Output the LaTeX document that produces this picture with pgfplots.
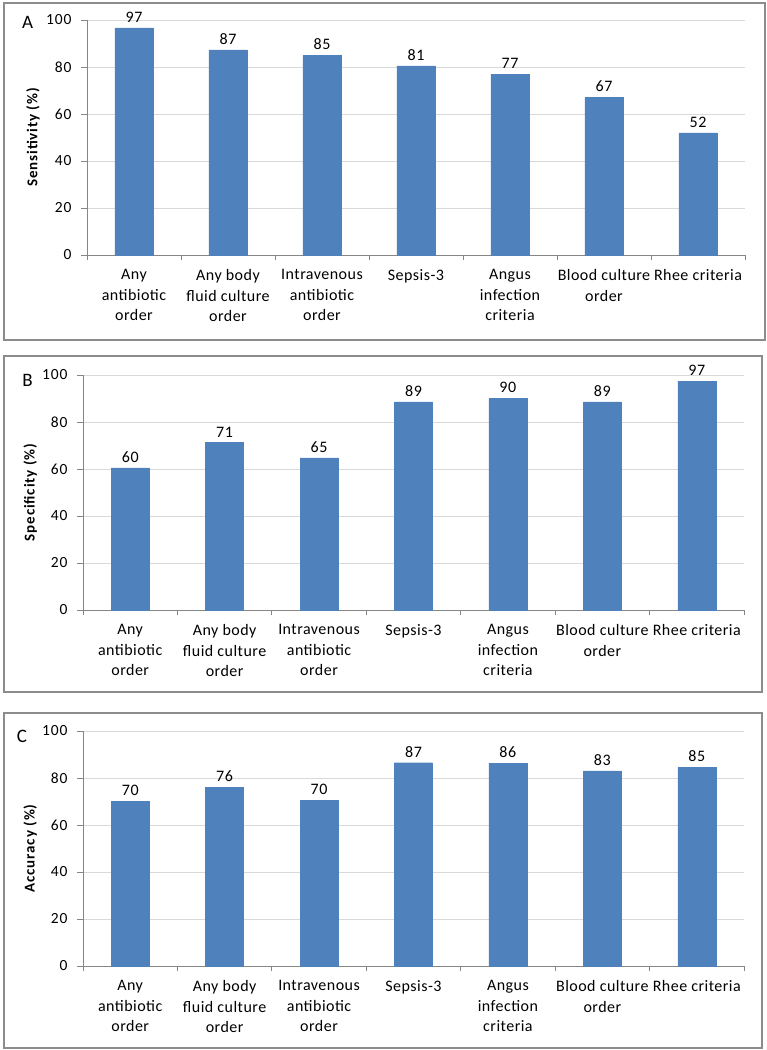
\documentclass[border=0pt]{standalone}
\usepackage{pgfplots}
\pgfplotsset{compat=1.18}
\usepackage{pgfplotstable}
\usepackage{fontspec}
\setmainfont{Carlito}
\newfontfamily\catfont[LetterSpace=3]{Carlito}
\newfontfamily\numfont[LetterSpace=6]{Carlito}
\newfontfamily\valfont[LetterSpace=4]{Carlito}
\newfontfamily\labfont[LetterSpace=6]{Carlito}
\definecolor{barblue}{HTML}{4F81BD}
\definecolor{gridgray}{HTML}{D9D9D9}
\definecolor{axgray}{HTML}{868686}
\definecolor{framegray}{HTML}{8C8C8C}

\pgfplotstableread{
x y lab
0 96.7 97
1 87.3 87
2 85 85
3 80.5 81
4 77 77
5 67 67
6 52 52
}\dataA
\pgfplotstableread{
x y lab
0 60.5 60
1 71.2 71
2 64.7 65
3 88.6 89
4 90 90
5 88.6 89
6 97.4 97
}\dataB
\pgfplotstableread{
x y lab
0 70 70
1 76 76
2 70.5 70
3 86.5 87
4 86.3 86
5 83 83
6 84.5 85
}\dataC

\pgfplotsset{panel/.style={
  height=235pt, scale only axis,
  ymin=0, ymax=100, ytick={0,20,...,100},
  xmin=-0.5, xmax=6.5, xtick={0,...,6},
  minor xtick={-0.5,0.5,...,6.5},
  axis x line*=bottom, axis y line*=left,
  axis line style={axgray, line width=0.9pt, -},
  tick align=outside,
  major tick length=6pt, minor tick length=5pt,
  tick style={axgray, line width=0.9pt},
  major x tick style={draw=none},
  ymajorgrids, grid style={gridgray, line width=0.9pt},
  /pgf/number format/assume math mode=true,
  yticklabel style={font=\numfont\fontsize{15.5}{17}\selectfont, text=black, xshift=-6pt},
  xticklabel style={align=center, font=\catfont\fontsize{16}{20.5}\selectfont, text=black, yshift=-5pt},
  xticklabels={{Any\\antibiotic\\order},{Any body\\fluid culture\\order},{Intravenous\\antibiotic\\order},{Sepsis-3},{Angus\\infection\\criteria},{Blood culture\\order},{Rhee criteria}},
  ylabel style={font=\labfont\fontsize{15}{17}\selectfont\bfseries, anchor=center},
  ybar, bar width=38pt,
  nodes near coords, point meta=explicit symbolic,
  every node near coord/.append style={font=\valfont\fontsize{16}{18}\selectfont, text=black, anchor=south, yshift=2pt},
}}

\begin{document}
\begin{tikzpicture}
\useasboundingbox (0pt,0pt) rectangle (767pt,-1050pt);
\draw[framegray, line width=1.3pt] (4pt,-3pt) rectangle (765pt,-340pt);
\draw[framegray, line width=1.3pt] (4pt,-356pt) rectangle (762pt,-692pt);
\draw[framegray, line width=1.3pt] (4pt,-713pt) rectangle (762pt,-1048pt);
\node[font=\fontsize{19}{22}\selectfont] at (27.5pt,-22pt) {A};
\node[font=\fontsize{19}{22}\selectfont] at (27.5pt,-380pt) {B};
\node[font=\fontsize{19}{22}\selectfont] at (22pt,-736pt) {C};

\begin{axis}[panel, at={(87pt,-255pt)}, anchor=south west, width=658pt,
  ylabel={Sensitivity (\%)}, ylabel style={at={(axis description cs:-0.082,0.5)}}]
\addplot[fill=barblue, draw=barblue] table[x=x,y=y,meta=lab]{\dataA};
\end{axis}

\begin{axis}[panel, at={(83pt,-610pt)}, anchor=south west, width=661pt,
  ylabel={Specificity (\%)}, ylabel style={at={(axis description cs:-0.080,0.5)}}]
\addplot[fill=barblue, draw=barblue] table[x=x,y=y,meta=lab]{\dataB};
\end{axis}

\begin{axis}[panel, at={(83pt,-966pt)}, anchor=south west, width=661pt,
  ylabel={Accuracy (\%)}, ylabel style={at={(axis description cs:-0.080,0.5)}}]
\addplot[fill=barblue, draw=barblue] table[x=x,y=y,meta=lab]{\dataC};
\end{axis}
\end{tikzpicture}
\end{document}
